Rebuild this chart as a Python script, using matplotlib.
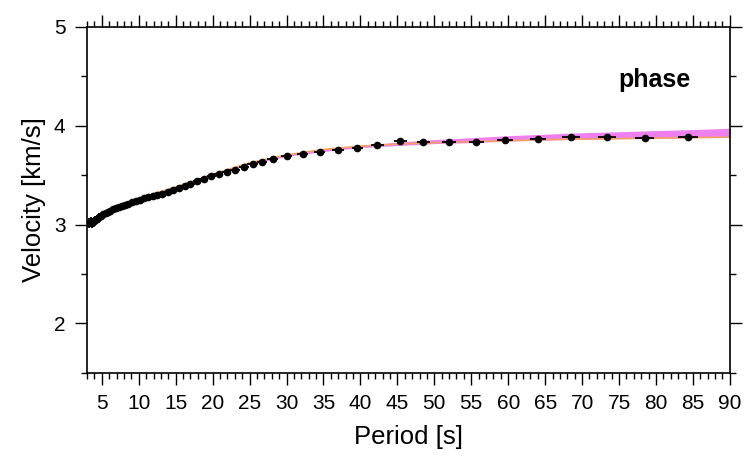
import matplotlib.pyplot as plt
from matplotlib.ticker import MultipleLocator

plt.rcParams["font.family"] = ["Liberation Sans", "DejaVu Sans"]

# measured phase velocities
period = [3.3, 3.5, 3.7, 3.9, 4.1, 4.3, 4.6, 4.9, 5.2, 5.5, 5.8, 6.1, 6.5, 6.9,
          7.3, 7.7, 8.1, 8.6, 9.1, 9.6, 10.1, 10.7, 11.3, 11.9, 12.5, 13.2, 13.9,
          14.6, 15.4, 16.2, 17.0, 17.9, 18.8, 19.8, 20.8, 21.9, 23.0, 24.2, 25.4,
          26.7, 28.1, 30.0, 32.2, 34.5, 37.0, 39.6, 42.3, 45.4, 48.5, 52.0, 55.7,
          59.6, 64.0, 68.5, 73.4, 78.5, 84.3]
velocity = [3.02, 3.03, 3.02, 3.04, 3.05, 3.06, 3.08, 3.09, 3.11, 3.12, 3.13, 3.14,
            3.155, 3.165, 3.175, 3.185, 3.20, 3.21, 3.225, 3.24, 3.25, 3.265, 3.275,
            3.285, 3.30, 3.315, 3.33, 3.35, 3.37, 3.39, 3.415, 3.44, 3.465, 3.49,
            3.51, 3.53, 3.555, 3.58, 3.61, 3.635, 3.665, 3.695, 3.717, 3.735, 3.757,
            3.777, 3.805, 3.85, 3.84, 3.835, 3.84, 3.86, 3.87, 3.885, 3.89, 3.88, 3.89]
vel_err = [0.05, 0.05, 0.05, 0.04, 0.04, 0.04, 0.035, 0.03, 0.03, 0.025, 0.02, 0.02,
           0.02, 0.015, 0.015, 0.015, 0.015, 0.01, 0.01, 0.01, 0.01, 0.01, 0.01,
           0.01, 0.01, 0.01, 0.01, 0.01, 0.01, 0.01, 0.01, 0.01, 0.01, 0.01, 0.01,
           0.01, 0.01, 0.01, 0.01, 0.01, 0.01, 0.01, 0.01, 0.01, 0.01, 0.01, 0.01,
           0.01, 0.01, 0.01, 0.01, 0.01, 0.01, 0.01, 0.01, 0.01, 0.01]
per_err = [0.3, 0.3, 0.3, 0.3, 0.3, 0.3, 0.3, 0.3, 0.3, 0.3, 0.3, 0.3, 0.35, 0.35,
           0.35, 0.35, 0.4, 0.4, 0.4, 0.4, 0.45, 0.45, 0.45, 0.5, 0.5, 0.5, 0.5,
           0.55, 0.55, 0.55, 0.6, 0.6, 0.6, 0.6, 0.65, 0.65, 0.65, 0.7, 0.7, 0.7,
           0.7, 0.75, 0.75, 0.75, 0.8, 0.8, 0.85, 0.85, 0.9, 1.0, 1.0, 1.1, 1.1,
           1.2, 1.2, 1.3, 1.35]

# model envelope and reference model
model_period = [3, 5, 10, 15, 20, 25, 30, 35, 40, 45, 50, 55, 60, 65, 70, 75, 80, 85, 90]
env_low = [3.00, 3.10, 3.26, 3.37, 3.50, 3.61, 3.69, 3.74, 3.78, 3.80, 3.82, 3.83,
           3.845, 3.855, 3.865, 3.87, 3.875, 3.88, 3.885]
env_high = [3.02, 3.12, 3.28, 3.39, 3.52, 3.63, 3.705, 3.76, 3.80, 3.835, 3.86, 3.88,
            3.90, 3.915, 3.93, 3.94, 3.952, 3.962, 3.975]
ref_model = [3.01, 3.11, 3.27, 3.38, 3.51, 3.625, 3.705, 3.76, 3.795, 3.815, 3.83,
             3.84, 3.85, 3.86, 3.865, 3.87, 3.875, 3.88, 3.885]

fig = plt.figure(figsize=(7.44, 4.57), dpi=100)
ax = fig.add_axes([0.117, 0.184, 0.864, 0.757])

ax.fill_between(model_period, env_low, env_high, color="#ee7fee", lw=0, zorder=1)
ax.plot(model_period, ref_model, color="#f4a060", lw=1.2, zorder=2)
ax.errorbar(period, velocity, xerr=per_err, yerr=vel_err, fmt="o", color="black",
            ms=4.5, elinewidth=1.3, capsize=0, zorder=3)

ax.set_xlim(3, 90)
ax.set_ylim(1.5, 5)
ax.xaxis.set_major_locator(MultipleLocator(5))
ax.xaxis.set_minor_locator(MultipleLocator(1))
ax.yaxis.set_major_locator(MultipleLocator(1))
ax.yaxis.set_minor_locator(MultipleLocator(0.5))
ax.tick_params(which="both", direction="out", top=True, right=True,
               labeltop=False, labelright=False, labelsize=15, width=1)
ax.tick_params(which="major", length=8.5, pad=7)
ax.tick_params(which="minor", length=4.3)
for s in ax.spines.values():
    s.set_linewidth(1.2)

ax.set_xlabel("Period [s]", fontsize=18.5, labelpad=8)
ax.set_ylabel("Velocity [km/s]", fontsize=18.5, labelpad=6)
ax.text(0.883, 0.847, "phase", transform=ax.transAxes, fontsize=18,
        fontweight="bold", ha="center", va="center")

fig.savefig("out.png", dpi=100)
